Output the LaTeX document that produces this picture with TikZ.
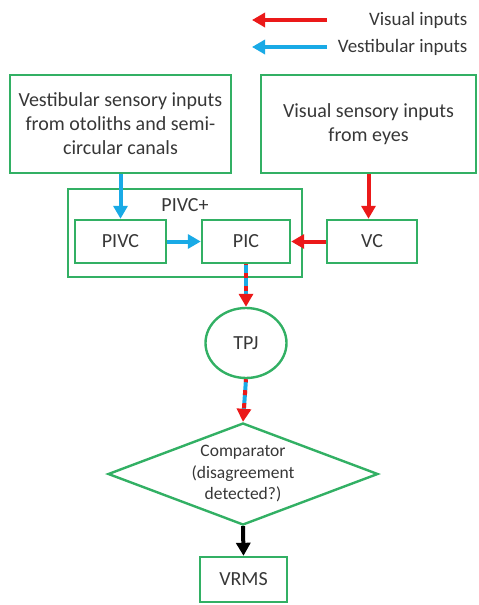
\documentclass[tikz,border=0pt]{standalone}
\usepackage{fontspec}
\setmainfont{Carlito}
\usetikzlibrary{arrows.meta,shapes.geometric}

\definecolor{boxgreen}{RGB}{50,176,100}
\definecolor{visred}{RGB}{235,25,25}
\definecolor{vestblue}{RGB}{25,170,230}
\definecolor{txtgray}{RGB}{55,55,55}

\begin{document}
\begin{tikzpicture}[x=1pt,y=-1pt,
    box/.style={draw=boxgreen, line width=2.4pt, inner sep=0pt, text=txtgray, align=center,
                font=\fontsize{20}{24}\selectfont},
    visarrow/.style={draw=visred, line width=4pt, -{Triangle[length=13pt,width=14pt]}},
    vestarrow/.style={draw=vestblue, line width=4pt, -{Triangle[length=13pt,width=14pt]}},
    outarrow/.style={draw=black, line width=4pt, -{Triangle[length=13pt,width=14pt]}}]
    \useasboundingbox (0,0) rectangle (479,605);

    % Légende
    \coordinate (LR) at (327,20);
    \coordinate (LRend) at (252,20);
    \coordinate (LB) at (327,47);
    \coordinate (LBend) at (252,47);
    \draw[visarrow] (LR) -- (LRend);
    \draw[vestarrow] (LB) -- (LBend);
    \node[anchor=east, text=txtgray, font=\fontsize{19}{23}\selectfont] (legvis) at (471,20) {Visual inputs};
    \node[anchor=east, text=txtgray, font=\fontsize{19}{23}\selectfont] (legvest) at (471,47) {Vestibular inputs};

    % Entrées sensorielles
    \node[box, minimum width=221pt, minimum height=98pt] (vest) at (120.5,124)
        {Vestibular sensory inputs\\from otoliths and semi-\\circular canals};
    \node[box, minimum width=215pt, minimum height=98pt] (vis) at (368.5,124)
        {Visual sensory inputs\\from eyes};

    % Groupe PIVC+
    \node[box, minimum width=234pt, minimum height=88pt] (pivcplus) at (185,233) {};
    \node[text=txtgray, font=\fontsize{20}{24}\selectfont] (pivcpluslab) at (185,205) {PIVC+};
    \node[box, minimum width=91pt, minimum height=43pt] (pivc) at (120.5,241.5) {PIVC};
    \node[box, minimum width=88pt, minimum height=43pt] (pic) at (246,241.5) {PIC};
    \node[box, minimum width=90pt, minimum height=43pt] (vc) at (372,241.5) {VC};

    % TPJ, comparateur et VRMS
    \node[box, ellipse, minimum width=81pt, minimum height=70pt] (tpj) at (246,343) {TPJ};
    \node[box, diamond, aspect=2.65, minimum width=270pt, minimum height=102pt,
          font=\fontsize{17.5}{21.5}\selectfont] (comp) at (243,474)
        {Comparator\\(disagreement\\detected?)};
    \node[box, minimum width=87pt, minimum height=45pt] (vrms) at (243.5,579.5) {VRMS};

    % Flèches
    \draw[vestarrow] (vest.south) -- (pivc.north);
    \draw[visarrow] (vis.south) -- (vis.south |- vc.north);
    \draw[vestarrow] (pivc.east) -- (pic.west);
    \draw[visarrow] (vc.west) -- (pic.east);

    % Flèches mixtes (bleu sous rouge pointillé)
    \draw[draw=vestblue, line width=4pt, shorten >=11pt] (pic.south) -- (tpj.north);
    \draw[visarrow, dash pattern=on 5pt off 8pt, dash phase=-9pt] (pic.south) -- (tpj.north);
    \draw[draw=vestblue, line width=4pt, shorten >=11pt] (tpj.south) -- (comp.north);
    \draw[visarrow, dash pattern=on 5pt off 8pt, dash phase=-11pt] (tpj.south) -- (comp.north);

    \draw[outarrow] (comp.south) -- (vrms.north);
\end{tikzpicture}
\end{document}
